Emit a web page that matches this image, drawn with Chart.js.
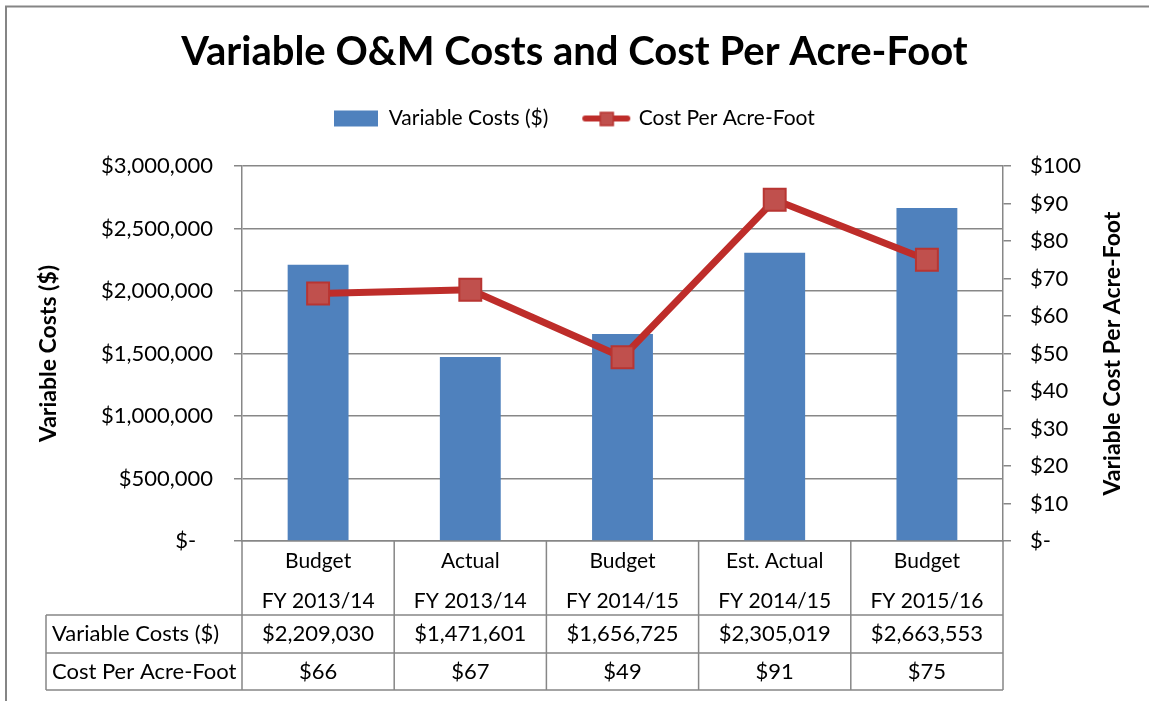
<!DOCTYPE html>
<html>
<head>
<meta charset="utf-8">
<script src="https://cdn.jsdelivr.net/npm/chart.js@4/dist/chart.umd.min.js"></script>
<style>
  html, body { margin: 0; padding: 0; background: #fff; }
  #wrap { width: 1149px; height: 701px; position: relative; }
</style>
</head>
<body>
<div id="wrap"><canvas id="omChart" width="1149" height="701"></canvas></div>
<script>
const categoryTop = ['Budget', 'Actual', 'Budget', 'Est. Actual', 'Budget'];
const categoryBottom = ['FY 2013/14', 'FY 2013/14', 'FY 2014/15', 'FY 2014/15', 'FY 2015/16'];
const variableCosts = [2209030, 1471601, 1656725, 2305019, 2663553];
const costPerAcreFoot = [66, 67, 49, 91, 75];

const FONT = 'Lato, "Open Sans", sans-serif';
const BLUE = '#4f81bd';
const RED = '#be2d2a';
const GRID = '#878787';

const money = v => v === 0 ? '$-   ' : '$' + v.toLocaleString('en-US');

// legend swatches
function swatchBar() {
  const c = document.createElement('canvas');
  c.width = 44; c.height = 18;
  const g = c.getContext('2d');
  g.fillStyle = BLUE;
  g.fillRect(0, 1, 44, 16);
  return c;
}
function swatchLine() {
  const c = document.createElement('canvas');
  c.width = 50; c.height = 18;
  const g = c.getContext('2d');
  g.strokeStyle = RED;
  g.lineWidth = 6;
  g.lineCap = 'round';
  g.beginPath(); g.moveTo(4, 9); g.lineTo(46, 9); g.stroke();
  g.fillStyle = '#c0504d';
  g.fillRect(19, 3, 13, 13);
  g.strokeStyle = '#b83532';
  g.lineWidth = 1.5;
  g.strokeRect(19, 3, 13, 13);
  return c;
}

// empty box under the legend to push the plot down
const spacer = {
  id: 'spacer',
  beforeInit(chart) {
    Chart.layouts.addBox(chart, {
      position: 'top',
      weight: 10,
      fullSize: true,
      options: { fullSize: true },
      isHorizontal() { return true; },
      update(maxWidth) { this.width = maxWidth; this.height = 27; },
      draw() {}
    });
  }
};

// frame, right axis title and the data table under the plot
const extras = {
  id: 'extras',
  beforeDraw(chart) {
    const ctx = chart.ctx;
    ctx.save();
    ctx.strokeStyle = '#858585';
    ctx.lineWidth = 2;
    ctx.beginPath();
    ctx.moveTo(6, 701); ctx.lineTo(6, 6.5); ctx.lineTo(1149, 6.5);
    ctx.stroke();
    ctx.restore();
  },
  afterDraw(chart) {
    const ctx = chart.ctx;
    const area = chart.chartArea;
    const n = categoryTop.length;
    const colW = (area.right - area.left) / n;
    const edges = [];
    for (let i = 0; i <= n; i++) edges.push(area.left + i * colW);
    const yAxis = area.bottom;
    const r1 = yAxis + 74, r2 = r1 + 38, r3 = r2 + 37;
    const tableLeft = 46;

    ctx.save();
    ctx.strokeStyle = GRID;
    ctx.lineWidth = 1.5;
    ctx.beginPath();
    edges.forEach(x => { ctx.moveTo(x, yAxis); ctx.lineTo(x, r3); });
    ctx.moveTo(tableLeft, r1); ctx.lineTo(tableLeft, r3);
    [r1, r2, r3].forEach(y => { ctx.moveTo(tableLeft, y); ctx.lineTo(area.right, y); });
    ctx.stroke();

    ctx.fillStyle = '#000';
    ctx.font = '22px ' + FONT;
    ctx.textBaseline = 'middle';
    ctx.textAlign = 'left';
    ctx.fillText('Variable Costs ($)', tableLeft + 6, (r1 + r2) / 2);
    ctx.fillText('Cost Per Acre-Foot', tableLeft + 6, (r2 + r3) / 2);
    ctx.textAlign = 'center';
    for (let i = 0; i < n; i++) {
      const cx = chart.scales.x.getPixelForValue(i);
      ctx.fillText(money(variableCosts[i]), cx, (r1 + r2) / 2);
      ctx.fillText('$' + costPerAcreFoot[i], cx, (r2 + r3) / 2);
    }

    // right axis title reads bottom to top
    ctx.translate(1113, (area.top + area.bottom) / 2);
    ctx.rotate(-Math.PI / 2);
    ctx.font = 'bold 23px ' + FONT;
    ctx.fillText('Variable Cost Per Acre-Foot', 0, 0);
    ctx.restore();
  }
};

const ctx = document.getElementById('omChart').getContext('2d');
new Chart(ctx, {
  data: {
    labels: categoryTop.map((t, i) => [t, categoryBottom[i]]),
    datasets: [
      {
        type: 'line',
        label: 'Cost Per Acre-Foot',
        data: costPerAcreFoot,
        yAxisID: 'y1',
        borderColor: RED,
        borderWidth: 7,
        pointStyle: 'rect',
        pointRadius: 15.5,
        pointBackgroundColor: '#c0504d',
        pointBorderColor: '#b83532',
        pointBorderWidth: 2,
        tension: 0,
        order: 1
      },
      {
        type: 'bar',
        label: 'Variable Costs ($)',
        data: variableCosts,
        yAxisID: 'y',
        backgroundColor: BLUE,
        barPercentage: 0.4,
        categoryPercentage: 1,
        order: 2
      }
    ]
  },
  options: {
    responsive: false,
    animation: false,
    layout: { padding: { left: 0, right: 0, top: 0, bottom: 0 } },
    plugins: {
      tooltip: { enabled: false },
      title: {
        display: true,
        text: 'Variable O&M Costs and Cost Per Acre-Foot',
        color: '#000',
        font: { family: FONT, size: 40, weight: 'bold', lineHeight: 1 },
        padding: { top: 32, bottom: 0 }
      },
      legend: {
        position: 'top',
        labels: {
          usePointStyle: true,
          pointStyleWidth: 44,
          padding: 36,
          color: '#000',
          font: { family: FONT, size: 21 },
          generateLabels: () => [
            { text: 'Variable Costs ($)', pointStyle: swatchBar(), datasetIndex: 1, hidden: false, lineWidth: 0 },
            { text: 'Cost Per Acre-Foot', pointStyle: swatchLine(), datasetIndex: 0, hidden: false, lineWidth: 0 }
          ]
        }
      }
    },
    scales: {
      x: {
        grid: { display: false, drawTicks: false },
        border: { display: true, color: GRID, width: 1.5 },
        ticks: {
          padding: 0,
          maxRotation: 0,
          color: '#000',
          font: { family: FONT, size: 21, lineHeight: 40 / 21 }
        },
        afterFit: s => { s.height = 160; }
      },
      y: {
        position: 'left',
        min: 0,
        max: 3000000,
        ticks: {
          stepSize: 500000,
          padding: 21,
          color: '#000',
          font: { family: FONT, size: 22 },
          callback: v => money(v)
        },
        grid: { color: GRID, lineWidth: 1.5, tickLength: 8 },
        border: { display: true, color: GRID, width: 1.5 },
        title: {
          display: true,
          text: 'Variable Costs ($)',
          color: '#000',
          font: { family: FONT, size: 23, weight: 'bold' },
          padding: { top: 35, bottom: 0 }
        },
        afterFit: s => { s.width = 242; }
      },
      y1: {
        position: 'right',
        min: 0,
        max: 100,
        ticks: {
          stepSize: 10,
          padding: 19,
          color: '#000',
          font: { family: FONT, size: 22 },
          callback: v => v === 0 ? '$-' : '$' + v
        },
        grid: { drawOnChartArea: false, color: GRID, lineWidth: 1.5, tickLength: 8 },
        border: { display: true, color: GRID, width: 1.5 },
        afterFit: s => { s.width = 146; }
      }
    }
  },
  plugins: [spacer, extras]
});
</script>
</body>
</html>
